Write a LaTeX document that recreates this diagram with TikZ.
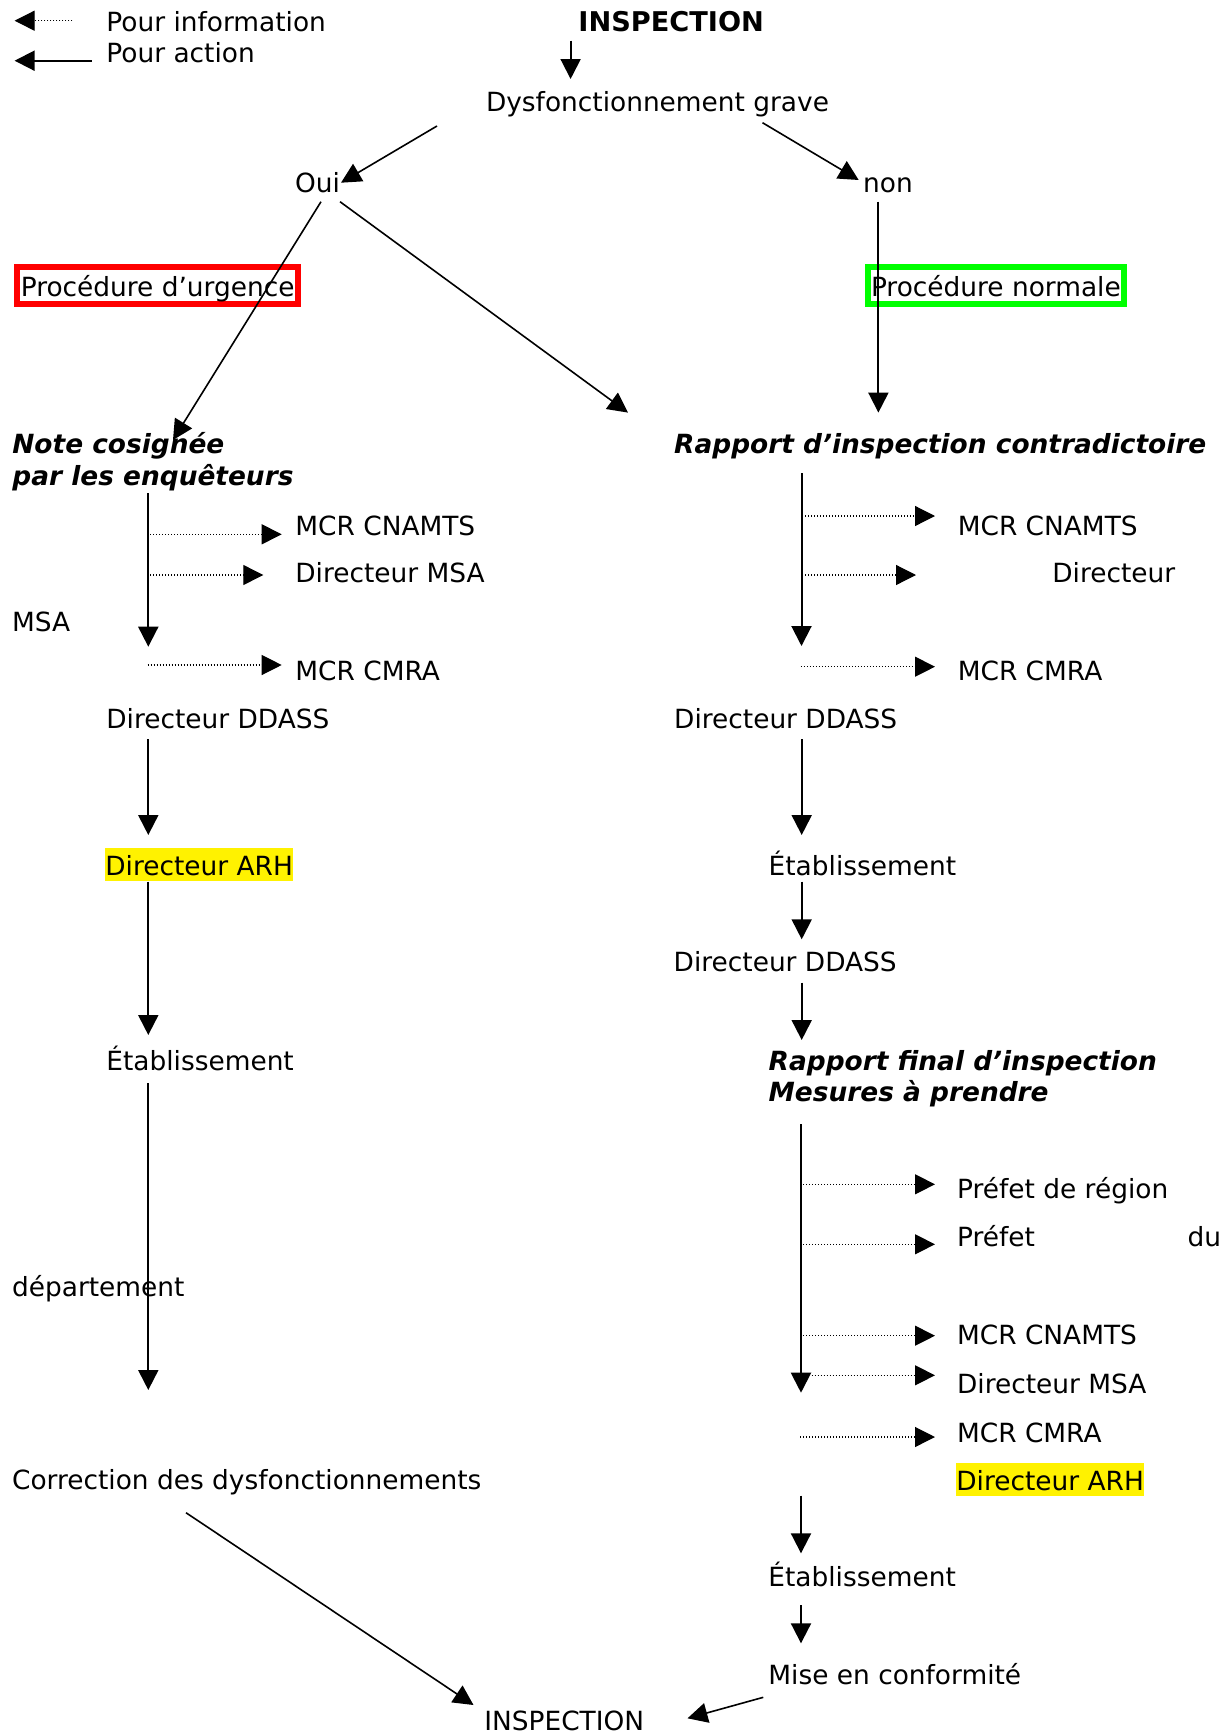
\documentclass[tikz,border=0pt]{standalone}
\usepackage{fontspec}
\setmainfont{DejaVu Sans}
\usetikzlibrary{arrows.meta}
\begin{document}
\begin{tikzpicture}[x=0.5pt,y=-0.5pt,
  every node/.style={font=\fontsize{13.2pt}{15.8pt}\selectfont},
  txt/.style={anchor=base west, inner sep=0pt},
  bi/.style={txt, font=\fontsize{13.2pt}{15.8pt}\selectfont\bfseries\itshape},
  hl/.style={txt, fill=yellow, text height=13.6pt, text depth=3pt},
  redbox/.style={anchor=base west, draw=red, line width=3pt, inner xsep=1.9pt, inner ysep=0pt, text height=14.85pt, text depth=3.65pt},
  greenbox/.style={anchor=base west, draw=green, line width=3pt, inner xsep=1.75pt, inner ysep=0pt, text height=14.85pt, text depth=3.65pt},
  act/.style={draw, line width=1pt, -{Triangle[length=10pt,width=10pt]}},
  diag/.style={draw, line width=0.8pt, -{Triangle[length=10pt,width=10pt]}},
  info/.style={draw, line width=0.6pt, dash pattern=on 0.5pt off 1pt, -{Triangle[length=10pt,width=10pt]}}
]
\useasboundingbox (0,0) rectangle (1229,1735);

% legend
\node[txt] (pinfo) at (106,31.7) {Pour information};
\node[txt] (pact) at (106,62.7) {Pour action};
\coordinate (li1) at (72.4,20.7); \coordinate (li2) at (14.6,20.7);
\coordinate (la1) at (91.7,60.7); \coordinate (la2) at (14.6,60.7);
\draw[info] (li1) -- (li2);
\draw[act] (la1) -- (la2);

% top
\node[txt, font=\fontsize{13.6pt}{15.8pt}\selectfont\bfseries] (insp) at (578,31.7) {INSPECTION};
\node[txt] (dys) at (485.6,111.5) {Dysfonctionnement grave};
\node[txt] (oui) at (294.6,192.7) {Oui};
\node[txt] (non) at (862.7,192.7) {non};
\node[redbox] (urg) at (14,296.7) {Procédure d’urgence};
\node[greenbox] (norm) at (864.5,296.7) {Procédure normale};

% left column texts
\node[bi] (note1) at (12,453.3) {Note cosignée};
\node[bi] (note2) at (12,485) {par les enquêteurs};
\node[txt] (lmcr1) at (295,535) {MCR CNAMTS};
\node[txt] (ldirmsa) at (295,582.7) {Directeur MSA};
\node[txt] (lmsa) at (11.7,631.7) {MSA};
\node[txt] (lcmra) at (295,680) {MCR CMRA};
\node[txt] (lddass) at (106,728.3) {Directeur DDASS};
\node[hl] (larh) at (105,875) {Directeur ARH};
\node[txt] (letab) at (106,1070) {Établissement};
\node[txt] (dept) at (11.7,1296.7) {département};
\node[txt] (corr) at (11.7,1489) {Correction des dysfonctionnements};
\node[txt] (insp2) at (484,1730) {INSPECTION};

% right column texts
\node[bi] (rapc) at (673.8,453.3) {Rapport d’inspection contradictoire};
\node[txt] (rmcr1) at (957.4,535) {MCR CNAMTS};
\node[txt] (rdir) at (1052,582.7) {Directeur};
\node[txt] (rcmra) at (957.4,680.7) {MCR CMRA};
\node[txt] (rddass) at (673.8,728.3) {Directeur DDASS};
\node[txt] (retab1) at (768.3,875) {Établissement};
\node[txt] (rddass2) at (673.3,971.7) {Directeur DDASS};
\node[bi] (rfin1) at (768.3,1070) {Rapport final d’inspection};
\node[bi] (rfin2) at (768.3,1101) {Mesures à prendre};
\node[txt] (pref1) at (956.7,1198.3) {Préfet de région};
\node[txt] (pref2) at (956.7,1246.7) {Préfet};
\node[txt] (du) at (1187.3,1246.7) {du};
\node[txt] (rmcr2) at (956.7,1344.3) {MCR CNAMTS};
\node[txt] (rdirmsa) at (956.7,1393.3) {Directeur MSA};
\node[txt] (rcmra2) at (956.7,1442.3) {MCR CMRA};
\node[hl] (rarh) at (956,1490) {Directeur ARH};
\node[txt] (retab2) at (768,1586.7) {Établissement};
\node[txt] (mise) at (768,1684.3) {Mise en conformité};

% connector end points
\coordinate (a1s) at (570.6,40.7);  \coordinate (a1e) at (570.6,79);
\coordinate (a2s) at (437,126);     \coordinate (a2e) at (341,182.7);
\coordinate (a3s) at (762.5,122.7); \coordinate (a3e) at (858.7,180);
\coordinate (a4s) at (321,201.7);   \coordinate (a4e) at (173,440);
\coordinate (a5s) at (340,201.7);   \coordinate (a5e) at (628,412.6);
\coordinate (a6s) at (878.4,201.7); \coordinate (a6e) at (878.4,412.6);
\coordinate (a7s) at (148.3,493.3); \coordinate (a7e) at (148.3,646.7);
\coordinate (a8s) at (801.5,473.3); \coordinate (a8e) at (801.5,646);
\coordinate (a9s) at (148.3,739);   \coordinate (a9e) at (148.3,835);
\coordinate (a10s) at (801.7,739);  \coordinate (a10e) at (801.7,835);
\coordinate (a11s) at (148.3,881.7);\coordinate (a11e) at (148.3,1035);
\coordinate (a12s) at (801.7,881.7);\coordinate (a12e) at (801.7,939.3);
\coordinate (a13s) at (801.7,982.7);\coordinate (a13e) at (801.7,1040);
\coordinate (a14s) at (148.3,1083.3);\coordinate (a14e) at (148.3,1390);
\coordinate (a15s) at (801,1124);   \coordinate (a15e) at (801,1392.7);
\coordinate (a16s) at (186,1512.7); \coordinate (a16e) at (473.5,1705);
\coordinate (a17s) at (801,1495.7); \coordinate (a17e) at (801,1553.3);
\coordinate (a18s) at (801,1605);   \coordinate (a18e) at (801,1643.3);
\coordinate (a19s) at (763.3,1697.3);\coordinate (a19e) at (687.5,1718.3);

\coordinate (l1s) at (150,534.3);   \coordinate (l1e) at (281.7,534.3);
\coordinate (l2s) at (150,575);     \coordinate (l2e) at (263.3,575);
\coordinate (l3s) at (147.7,665);   \coordinate (l3e) at (281.7,665);
\coordinate (r1s) at (805,516);     \coordinate (r1e) at (935,516);
\coordinate (r2s) at (805,575);     \coordinate (r2e) at (916,575);
\coordinate (r3s) at (800.8,666.7); \coordinate (r3e) at (935,666.7);
\coordinate (r4s) at (803.3,1184.3);\coordinate (r4e) at (935,1184.3);
\coordinate (r5s) at (803.3,1244.3);\coordinate (r5e) at (935,1244.3);
\coordinate (r6s) at (803.3,1335.7);\coordinate (r6e) at (935,1335.7);
\coordinate (r7s) at (811.7,1375.3);\coordinate (r7e) at (935,1375.3);
\coordinate (r8s) at (800,1437);    \coordinate (r8e) at (935,1437);

% action arrows
\foreach \i in {1,6,7,8,9,10,11,12,13,14,15,17,18} {\draw[act] (a\i s) -- (a\i e);}
\foreach \i in {2,3,4,5,16,19} {\draw[diag] (a\i s) -- (a\i e);}

% information arrows
\foreach \i in {1,2,3} {\draw[info] (l\i s) -- (l\i e);}
\foreach \i in {1,...,8} {\draw[info] (r\i s) -- (r\i e);}
\end{tikzpicture}
\end{document}
